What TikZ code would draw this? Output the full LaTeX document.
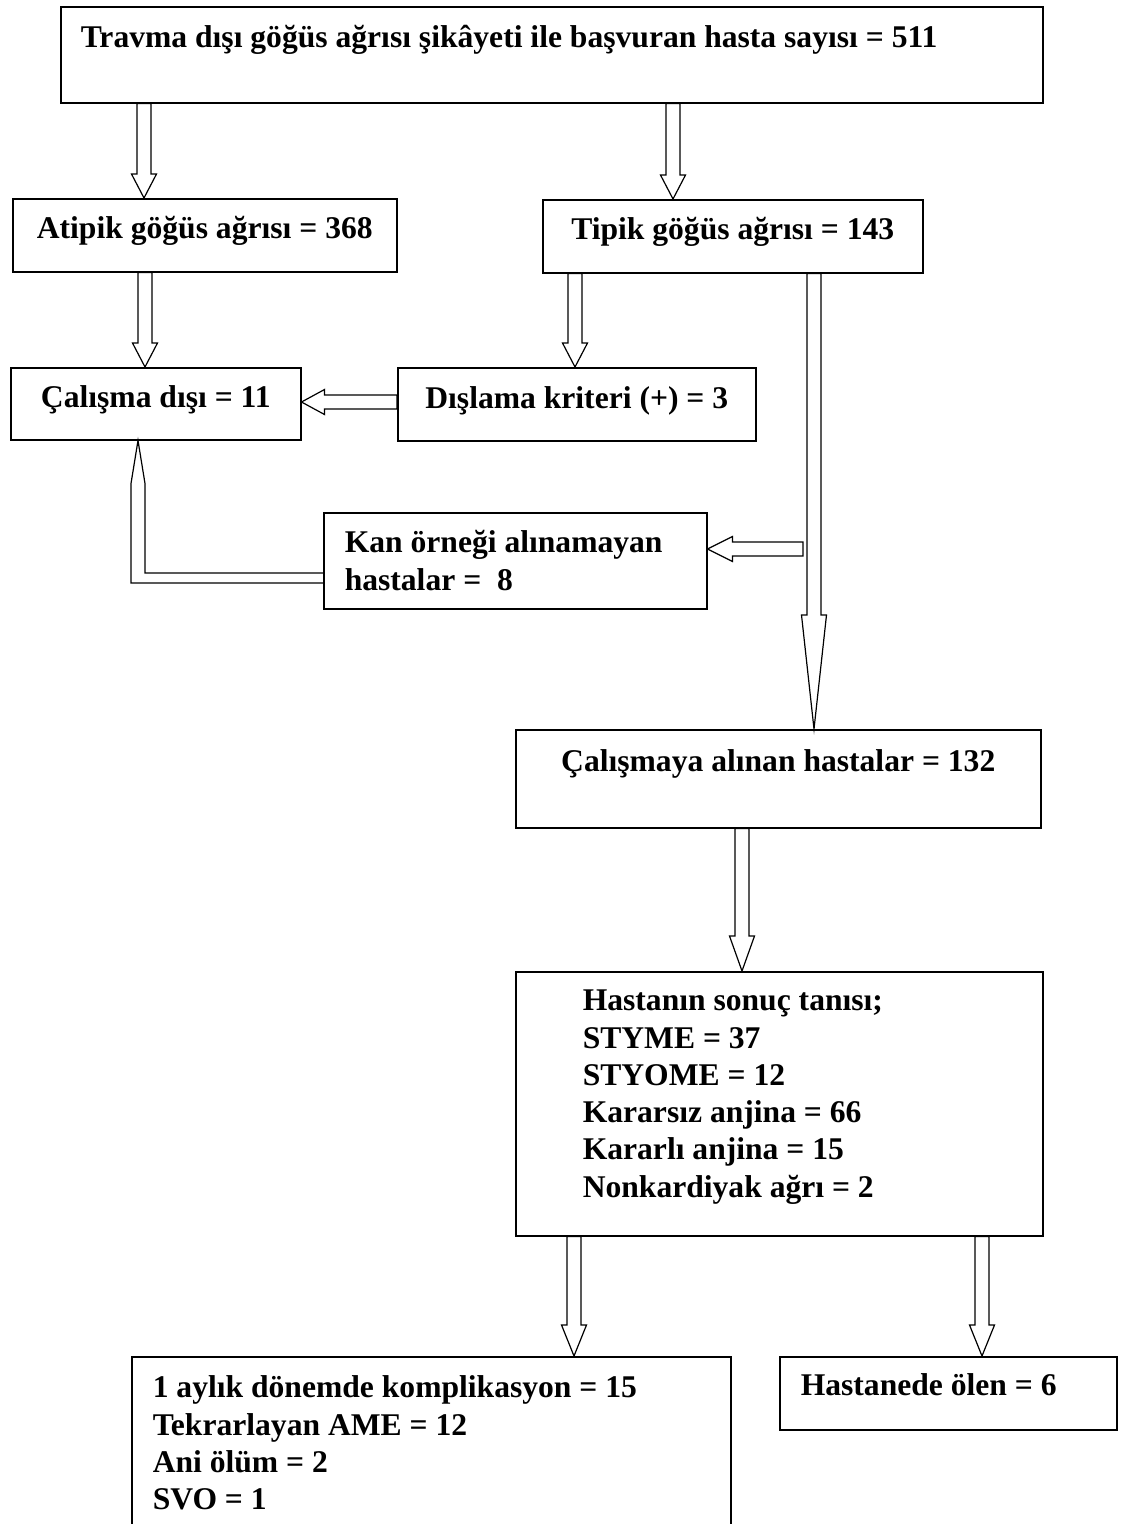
\documentclass[tikz,border=0pt]{standalone}
\usepackage{fontspec}
\setmainfont{Liberation Serif}
\usetikzlibrary{calc}

\begin{document}
\begin{tikzpicture}[x=1pt, y=-1pt, every node/.style={font=\fontsize{31.6}{37.3}\selectfont\bfseries},
				box/.style={draw, line width=1.5pt, anchor=north west, inner ysep=0pt, text height=40pt, text depth=33pt},
				lbox/.style={box, align=flush left, inner xsep=21pt},
				hollow/.style={draw, line width=1.2pt, to path={let \p1=($(\tikztotarget)!#1!(\tikztostart)$) in
					($(\tikztostart)!7pt!90:(\tikztotarget)$) -- ($(\p1)!7pt!90:(\tikztotarget)$) -- ($(\p1)!12.5pt!90:(\tikztotarget)$) -- (\tikztotarget)
					-- ($(\p1)!12.5pt!-90:(\tikztotarget)$) -- ($(\p1)!7pt!-90:(\tikztotarget)$) -- ($(\tikztostart)!7pt!-90:(\tikztotarget)$) -- cycle}},
				hollow/.default=24pt]
			\useasboundingbox (0,0) rectangle (1126,1524);
			\node[lbox, text width=942pt, inner xsep=20pt, text height=41pt, text depth=55pt] (basvuru) at (60,6) {Travma dışı göğüs ağrısı şikâyeti ile başvuran hasta sayısı = 511};
			\node[box, minimum width=384pt] (atipik) at (12,198) {Atipik göğüs ağrısı = 368};
			\node[box, minimum width=380pt] (tipik) at (542,199) {Tipik göğüs ağrısı = 143};
			\node[box, minimum width=290pt, text depth=32pt] (disi) at (10,367) {Çalışma dışı = 11};
			\node[box, minimum width=358pt, text height=41pt, text depth=32pt] (dislama) at (397,367) {Dışlama kriteri (+) = 3};
			\node[lbox, text width=341pt, text depth=56pt] (kan) at (323,512) {Kan örneği alınamayan\\hastalar = \ 8};
			\node[box, minimum width=525pt, text height=42pt, text depth=56pt] (alinan) at (515,729) {Çalışmaya alınan hastalar = 132};
			\node[lbox, text width=393pt, inner xsep=67pt, text height=39pt, text depth=225pt] (sonuc) at (515,971) {Hastanın sonuç tanısı;\\STYME = 37\\STYOME = 12\\Kararsız anjina = 66\\Kararlı anjina = 15\\Nonkardiyak ağrı = 2};
			\node[lbox, text width=557pt, text height=41pt, text depth=200pt] (komp) at (131,1356) {1 aylık dönemde komplikasyon = 15\\Tekrarlayan AME = 12\\Ani ölüm = 2\\SVO = 1};
			\node[lbox, text width=295pt, text height=39pt, text depth=34pt] (olen) at (779,1356) {Hastanede ölen = 6};
			\coordinate (ucu) at (803,549);
			\draw[hollow] (basvuru.south -| 144,0) to (atipik.north -| 144,0);
			\draw[hollow] (basvuru.south -| 673,0) to (tipik.north -| 673,0);
			\draw[hollow] (atipik.south -| 145,0) to (disi.north -| 145,0);
			\draw[hollow] (tipik.south -| 575,0) to (dislama.north -| 575,0);
			\draw[hollow=23pt] (dislama.west |- 0,402) to (disi.east |- 0,402);
			\draw[hollow=114pt] (tipik.south -| 814,0) to (alinan.north -| 814,0);
			\draw[hollow=25pt] (ucu) to (kan.east |- ucu);
			\draw[line width=1.2pt] ($(kan.north west)+(0,61)$) -| ($(disi.south west)+(135,43)$) -- ($(disi.south west)+(128,0)$)
				-- ($(disi.south west)+(121,43)$) |- ($(kan.north west)+(0,71)$);
			\draw[hollow=35pt] (alinan.south -| 742,0) to (sonuc.north -| 742,0);
			\draw[hollow=31pt] (sonuc.south -| 574,0) to (komp.north -| 574,0);
			\draw[hollow=31pt] (sonuc.south -| 982,0) to (olen.north -| 982,0);
		\end{tikzpicture}
\end{document}
